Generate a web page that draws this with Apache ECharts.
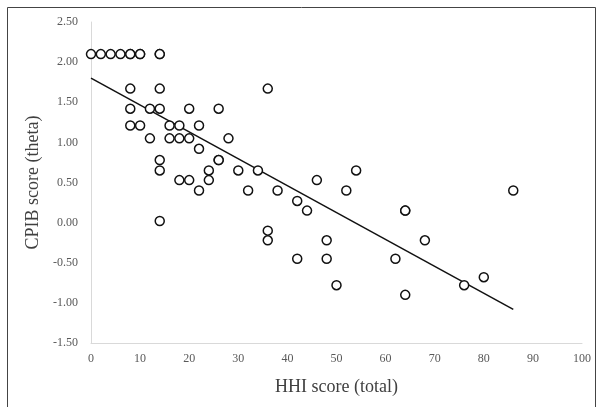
<!DOCTYPE html>
<html>
<head>
<meta charset="utf-8">
<script src="https://cdn.jsdelivr.net/npm/echarts@6/dist/echarts.min.js"></script>
<style>
html,body{margin:0;padding:0;background:#fff;}
#chart{width:597px;height:407px;}
</style>
</head>
<body>
<div id="chart"></div>
<script>
// HHI score (total) for each observation
var hhiScores = [0,2,4,6,8,8,10,10,14,14,
  8,14,36,
  8,12,14,20,26,
  8,10,16,18,22,
  12,16,18,20,28,
  22,
  14,26,26,
  14,24,30,34,54,
  18,20,24,46,
  22,32,38,52,86,
  42,
  44,64,64,
  14,
  36,
  36,48,68,
  42,48,62,
  80,
  50,76,
  64];
// CPIB score (theta) for each observation
var cpibScores = [2.10,2.10,2.10,2.10,2.10,2.10,2.10,2.10,2.10,2.10,
  1.67,1.67,1.67,
  1.42,1.42,1.42,1.42,1.42,
  1.21,1.21,1.21,1.21,1.21,
  1.05,1.05,1.05,1.05,1.05,
  0.92,
  0.78,0.78,0.78,
  0.65,0.65,0.65,0.65,0.65,
  0.53,0.53,0.53,0.53,
  0.40,0.40,0.40,0.40,0.40,
  0.27,
  0.15,0.15,0.15,
  0.02,
  -0.10,
  -0.22,-0.22,-0.22,
  -0.45,-0.45,-0.45,
  -0.68,
  -0.78,-0.78,
  -0.90];
// linear trend line end points
var trendX = [0, 86];
var trendY = [1.80, -1.08];
// axis ticks
var xTicks = [0,10,20,30,40,50,60,70,80,90,100];
var yTicks = [-1.5,-1.0,-0.5,0,0.5,1.0,1.5,2.0,2.5];

var points = hhiScores.map(function(x,i){return [x, cpibScores[i]];});
var trend = trendX.map(function(x,i){return [x, trendY[i]];});

var chart = echarts.init(document.getElementById('chart'), null, {renderer:'canvas'});
var font = 'Liberation Serif';
chart.setOption({
  animation:false,
  backgroundColor:'#ffffff',
  grid:{left:91, right:15, top:22, bottom:64, containLabel:false},
  xAxis:{
    type:'value', min:xTicks[0], max:xTicks[xTicks.length-1], interval:10,
    name:'HHI score (total)', nameLocation:'middle', nameGap:35,
    nameTextStyle:{fontFamily:font, fontSize:18, color:'#404040'},
    axisLine:{show:true, onZero:false, lineStyle:{color:'#d9d9d9', width:1}},
    axisTick:{show:false},
    splitLine:{show:false},
    axisLabel:{fontFamily:font, fontSize:12, color:'#595959', margin:10}
  },
  yAxis:{
    type:'value', min:yTicks[0], max:yTicks[yTicks.length-1], interval:0.5,
    name:'CPIB score (theta)', nameLocation:'middle', nameGap:43, nameRotate:90,
    nameTextStyle:{fontFamily:font, fontSize:18, color:'#404040'},
    axisLine:{show:true, onZero:false, lineStyle:{color:'#d9d9d9', width:1}},
    axisTick:{show:false},
    splitLine:{show:false},
    axisLabel:{fontFamily:font, fontSize:12, color:'#595959', margin:13,
      formatter:function(v){return v.toFixed(2);}}
  },
  graphic:[{
    type:'rect', shape:{x:7.5, y:7.5, width:588, height:420},
    style:{fill:'none', stroke:'#444', lineWidth:1}, silent:true
  }],
  series:[
    {
      type:'scatter', data:points, symbol:'circle', symbolSize:9,
      itemStyle:{color:'#ffffff', borderColor:'#111', borderWidth:1.5, opacity:1},
      z:3
    },
    {
      type:'line', data:trend, symbol:'none',
      lineStyle:{color:'#111', width:1.5}, z:2
    }
  ]
});
</script>
</body>
</html>
